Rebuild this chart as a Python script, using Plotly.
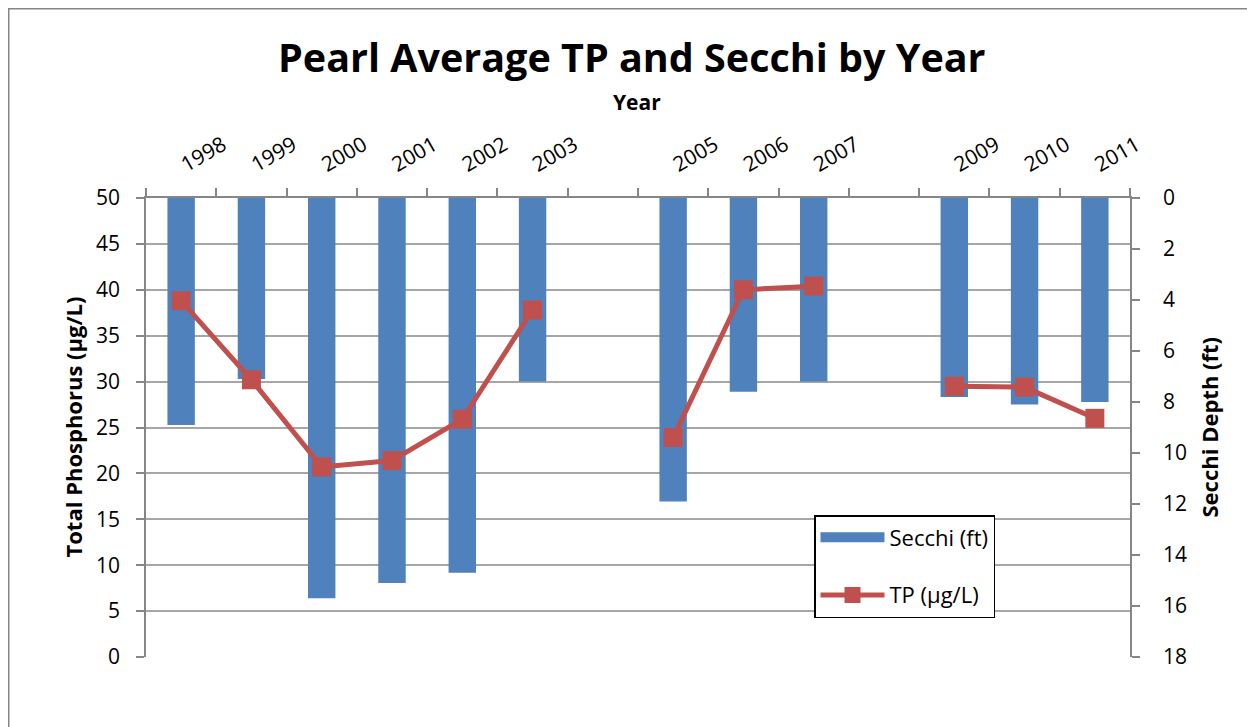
import plotly.graph_objects as go

years = [1998, 1999, 2000, 2001, 2002, 2003, 2004, 2005, 2006, 2007, 2008, 2009, 2010, 2011]
secchi_ft = [8.9, 7.1, 15.7, 15.1, 14.7, 7.2, None, 11.9, 7.6, 7.2, None, 7.8, 8.1, 8.0]
tp_ugl = [38.8, 30.2, 20.7, 21.4, 25.9, 37.8, None, 23.9, 40.0, 40.4, None, 29.5, 29.4, 26.0]

label_years = [y for y, v in zip(years, secchi_ft) if v is not None]
label_text = [str(y) for y in label_years]
left_ticks = list(range(0, 51, 5))
right_ticks = list(range(0, 19, 2))

FONT = "'Open Sans', Lato, sans-serif"
GRID = "#A6A6A6"
AXIS = "#868686"
BLUE = "#4F81BD"
RED = "#C0504D"

# plot area in page pixels (page has an 8px body margin)
L, R, T, B = 138, 1122, 190, 649
W, H = R - L, B - T


def px(x):
    return (x - L) / W


def py(y):
    return (B - y) / H


fig = go.Figure()
fig.add_trace(go.Bar(
    x=years, y=secchi_ft, name="Secchi (ft)", marker=dict(color=BLUE, line=dict(width=0)),
    width=0.39, yaxis="y", legendgroup="a", showlegend=False,
))
# legend swatch for the bars (wide rectangle, as in the original legend)
fig.add_trace(go.Scatter(
    x=[None], y=[None], name="Secchi (ft)", mode="lines",
    line=dict(color=BLUE, width=16), yaxis="y", legendgroup="a", hoverinfo="skip",
))
fig.add_trace(go.Scatter(
    x=years, y=tp_ugl, name="TP (µg/L)", mode="lines+markers", connectgaps=False,
    line=dict(color=RED, width=5), marker=dict(symbol="square", size=19, color=RED),
    yaxis="y2", legendgroup="b",
))

fig.update_layout(
    width=1255, height=727,
    margin=dict(l=L, r=1255 - R, t=T, b=727 - B),
    paper_bgcolor="white", plot_bgcolor="white",
    font=dict(family=FONT, size=21, color="black"),
    showlegend=True,
    legend=dict(
        x=px(806), y=py(507), xanchor="left", yanchor="top",
        bordercolor="black", borderwidth=1.5, bgcolor="white",
        font=dict(size=22), traceorder="grouped", tracegroupgap=26, itemwidth=64,
    ),
    xaxis=dict(
        side="top", range=[1997.5, 2011.5], tickmode="array", tickvals=label_years,
        ticktext=label_text, tickangle=-30, ticks="", showgrid=False,
        showline=True, linecolor=AXIS, linewidth=1.5,
        minor=dict(tick0=1997.5, dtick=1, ticks="outside", ticklen=8, tickcolor=AXIS, tickwidth=1.5),
        tickfont=dict(size=21), ticklabelstandoff=14,
    ),
    yaxis=dict(
        side="right", range=[18, 0], tickmode="array", tickvals=right_ticks,
        ticks="outside", ticklen=8, tickcolor=AXIS, tickwidth=1.5,
        showline=True, linecolor=AXIS, linewidth=1.5, showgrid=False, zeroline=False,
        tickfont=dict(size=21), ticklabelstandoff=19,
    ),
    yaxis2=dict(
        side="left", overlaying="y", range=[0, 50], tickmode="array", tickvals=left_ticks,
        ticks="outside", ticklen=8, tickcolor=AXIS, tickwidth=1.5,
        showline=True, linecolor=AXIS, linewidth=1.5, showgrid=True, gridcolor=GRID, gridwidth=1.5,
        zeroline=False, tickfont=dict(size=21), ticklabelstandoff=12,
    ),
    annotations=[
        dict(text="<b>Pearl Average TP and Secchi by Year</b>", xref="paper", yref="paper",
             x=px(624), y=py(49), xanchor="center", yanchor="middle",
             showarrow=False, font=dict(size=39.5)),
        dict(text="<b>Year</b>", xref="paper", yref="paper",
             x=px(629), y=py(94), xanchor="center", yanchor="middle",
             showarrow=False, font=dict(size=21)),
        dict(text="<b>Total Phosphorus (µg/L)</b>", xref="paper", yref="paper",
             x=px(64), y=0.5, xanchor="center", yanchor="middle", textangle=-90,
             showarrow=False, font=dict(size=22)),
        dict(text="<b>Secchi Depth (ft)</b>", xref="paper", yref="paper",
             x=px(1200), y=0.5, xanchor="center", yanchor="middle", textangle=-90,
             showarrow=False, font=dict(size=22)),
    ],
    shapes=[
        dict(type="rect", xref="paper", yref="paper",
             x0=px(0.75), x1=px(1300), y0=py(760), y1=py(0.75),
             line=dict(color=AXIS, width=1.5), fillcolor="rgba(0,0,0,0)", layer="below"),
    ],
)

fig.write_html("out.html")
